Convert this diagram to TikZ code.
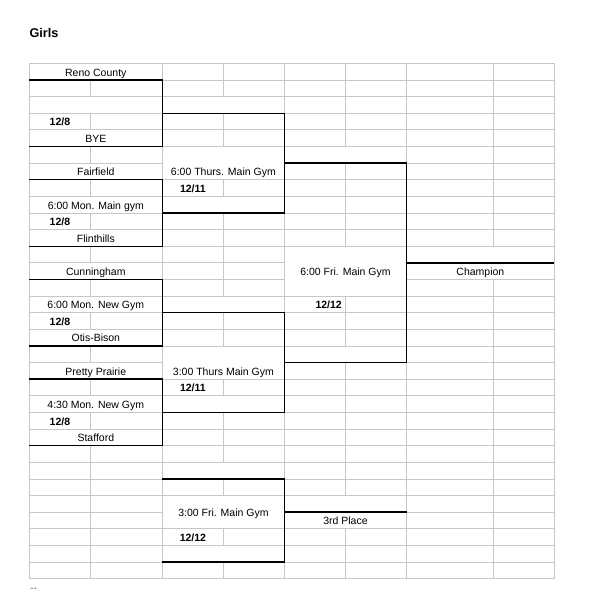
\documentclass[tikz,border=0pt]{standalone}
\usepackage{fontspec}
\setmainfont{Liberation Sans}
\usetikzlibrary{positioning}

% sheet columns and rows (in px of the sheet)
\def\cA{29.3}  \def\cB{90.5}  \def\cC{162.3} \def\cD{223.5}
\def\cE{284.3} \def\cF{345.7} \def\cG{406.5} \def\cH{493.3} \def\cI{554.3}
\def\mAB{95.8} \def\mA{59.9} \def\mCD{223.4} \def\mC{192.9}
\def\mEF{345.5} \def\mGH{480.4}
\newcommand{\rowy}[1]{63.4+16.62*(#1)}

\begin{document}
\begin{tikzpicture}[x=1pt, y=-1pt,
    every node/.style={font=\fontsize{10.5}{12}\selectfont, inner sep=0pt, text height=7.5pt, text depth=0pt},
    gridline/.style={draw=black!22, line width=0.8pt},
    bracket/.style={draw=black, line width=1.4pt},
    datebox/.style={font=\fontsize{10.5}{12}\selectfont\bfseries}]
    \useasboundingbox (0,0) rectangle (594,600);
    \node[anchor=west, font=\fontsize{12.7}{14}\selectfont\bfseries, text height=9.1pt] (title) at (29.3,33.3) {Girls};

    % grid rules
    \foreach \k in {0,...,31} {
        \draw[gridline] (\cA,{\rowy{\k}}) -- (\cC,{\rowy{\k}});
        \draw[gridline] (\cG,{\rowy{\k}}) -- (\cI,{\rowy{\k}});
    }
    \foreach \k in {0,1,2,3,4,5,7,8,9,10,11,12,13,14,15,16,17,19,20,21,22,23,24,25,26,28,29,30,31}
        \draw[gridline] (\cC,{\rowy{\k}}) -- (\cE,{\rowy{\k}});
    \foreach \k in {0,...,11,14,15,...,31}
        \draw[gridline] (\cE,{\rowy{\k}}) -- (\cG,{\rowy{\k}});
    \foreach \x in {\cA,\cC,\cE,\cG,\cI}
        \draw[gridline] (\x,{\rowy{0}}) -- (\x,{\rowy{31}});
    \foreach \r in {2,4,6,8,10,12,14,16,18,20,22,24,25,26,27,28,29,30,31}
        \draw[gridline] (\cB,{\rowy{\r-1}}) -- (\cB,{\rowy{\r}});
    \foreach \r in {1,2,4,5,8,10,11,12,13,14,16,17,20,22,23,24,26,29,31}
        \draw[gridline] (\cD,{\rowy{\r-1}}) -- (\cD,{\rowy{\r}});
    \foreach \r in {1,2,3,4,5,7,8,9,10,11,15,16,17,19,20,21,22,23,24,25,26,29,30,31}
        \draw[gridline] (\cF,{\rowy{\r-1}}) -- (\cF,{\rowy{\r}});
    \foreach \r in {1,...,11,14,15,...,31}
        \draw[gridline] (\cH,{\rowy{\r-1}}) -- (\cH,{\rowy{\r}});

    % bracket
    \foreach \t/\b in {1/5,7/11,13/17,19/23}
        \draw[bracket] (\cA,{\rowy{\t}}) -| (\cC,{\rowy{\b}}) -- (\cA,{\rowy{\b}});
    \foreach \t/\b in {3/9,15/21,25/30}
        \draw[bracket] (\cC,{\rowy{\t}}) -| (\cE,{\rowy{\b}}) -- (\cC,{\rowy{\b}});
    \draw[bracket] (\cE,{\rowy{6}}) -| (\cG,{\rowy{18}}) -- (\cE,{\rowy{18}});
    \draw[bracket] (\cG,{\rowy{12}}) -- (\cI,{\rowy{12}});
    \draw[bracket] (\cE,{\rowy{27}}) -- (\cG,{\rowy{27}});

    % teams and games
    \foreach \r/\nm/\txt in {0.5/reno/Reno County, 4.5/bye/BYE, 6.5/fairfield/Fairfield,
            8.5/mainA/6:00 Mon. Main gym, 10.5/flint/Flinthills, 12.5/cunning/Cunningham,
            14.5/newA/6:00 Mon. New Gym, 16.5/otis/Otis-Bison, 18.5/pretty/Pretty Prairie,
            20.5/newB/4:30 Mon. New Gym, 22.5/stafford/Stafford}
        \node (\nm) at (\mAB,{\rowy{\r}+0.6}) {\txt};
    \foreach \r/\nm in {3.5/dayA,9.5/dayB,15.5/dayC,21.5/dayD}
        \node[datebox] (\nm) at (\mA,{\rowy{\r}+0.6}) {12/8};
    \node (thursA) at (\mCD,{\rowy{6.5}}) {6:00 Thurs. Main Gym};
    \node[datebox] (dayE) at (\mC,{\rowy{7.5}+0.6}) {12/11};
    \node (thursB) at (\mCD,{\rowy{18.5}+0.6}) {3:00 Thurs Main Gym};
    \node[datebox] (dayF) at (\mC,{\rowy{19.5}+0.6}) {12/11};
    \node (friB) at (\mCD,{\rowy{27}+0.4}) {3:00 Fri. Main Gym};
    \node[datebox] (dayG) at (\mC,{\rowy{28.5}+0.6}) {12/12};
    \node (friA) at (\mEF,{\rowy{12.5}+0.9}) {6:00 Fri. Main Gym};
    \node[datebox] (dayH) at (328.7,{\rowy{14.5}+0.6}) {12/12};
    \node (champ) at (\mGH,{\rowy{12.5}+0.6}) {Champion};
    \node (third) at (\mEF,{\rowy{27.5}+0.6}) {3rd Place};
    \node[text=black!55] (dash) at (33.5,588) {-{}-};
\end{tikzpicture}
\end{document}
